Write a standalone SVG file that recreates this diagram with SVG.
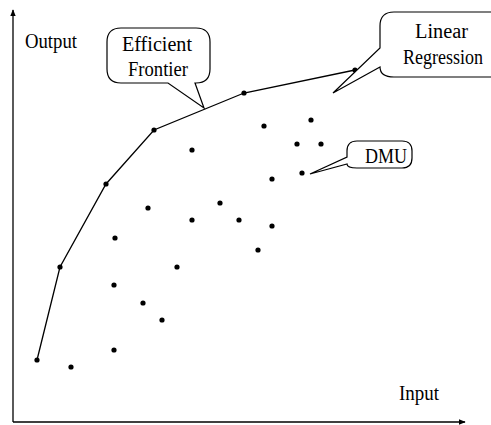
<svg xmlns="http://www.w3.org/2000/svg" width="491" height="425" viewBox="0 0 491 425">
<style>
.ax{stroke:#000;stroke-width:1.3;fill:none}
.ln{stroke:#000;stroke-width:1.3;fill:none}
.co{stroke:#000;stroke-width:1.2;fill:#fff}
.pt{fill:#000}
</style>
<defs>
<marker id="ar" viewBox="0 0 10 10" refX="9" refY="5" markerWidth="7" markerHeight="7" orient="auto" markerUnits="userSpaceOnUse">
<path d="M0,1 L10,5 L0,9 Z" fill="#000"/>
</marker>
</defs>
<rect width="491" height="425" fill="#fff"/>
<g id="connectors">
<line class="ax" x1="13" y1="422" x2="13" y2="10" marker-end="url(#ar)"/>
<line class="ax" x1="13" y1="422" x2="465" y2="422" marker-end="url(#ar)"/>
<polyline class="ln" points="37,360 60,267 106,184 154,130 244,93 355,70"/>
</g>
<g font-family="Liberation Serif" font-size="21" fill="#000">
<g id="axis-labels">
<text x="25" y="48" textLength="52" lengthAdjust="spacingAndGlyphs">Output</text>
<text x="399" y="400" textLength="40" lengthAdjust="spacingAndGlyphs">Input</text>
</g>
</g>
<g id="points">
<circle class="pt" cx="37" cy="360" r="2.6"/>
<circle class="pt" cx="60" cy="267" r="2.6"/>
<circle class="pt" cx="106" cy="184" r="2.6"/>
<circle class="pt" cx="154" cy="130" r="2.6"/>
<circle class="pt" cx="244" cy="93" r="2.6"/>
<circle class="pt" cx="355" cy="70" r="2.6"/>
<circle class="pt" cx="192" cy="150" r="2.6"/>
<circle class="pt" cx="148" cy="208" r="2.6"/>
<circle class="pt" cx="220" cy="203" r="2.6"/>
<circle class="pt" cx="192" cy="220" r="2.6"/>
<circle class="pt" cx="239" cy="220" r="2.6"/>
<circle class="pt" cx="115" cy="238" r="2.6"/>
<circle class="pt" cx="177" cy="267" r="2.6"/>
<circle class="pt" cx="114" cy="285" r="2.6"/>
<circle class="pt" cx="143" cy="303" r="2.6"/>
<circle class="pt" cx="162" cy="320" r="2.6"/>
<circle class="pt" cx="114" cy="350" r="2.6"/>
<circle class="pt" cx="71" cy="367" r="2.6"/>
<circle class="pt" cx="264" cy="126" r="2.6"/>
<circle class="pt" cx="311" cy="120" r="2.6"/>
<circle class="pt" cx="297" cy="144" r="2.6"/>
<circle class="pt" cx="321" cy="144" r="2.6"/>
<circle class="pt" cx="302" cy="173" r="2.6"/>
<circle class="pt" cx="272" cy="179" r="2.6"/>
<circle class="pt" cx="272" cy="226" r="2.6"/>
<circle class="pt" cx="258" cy="250" r="2.6"/>
</g>
<g id="efficient-frontier" font-family="Liberation Serif" font-size="21" fill="#000">
<path class="co" d="M121,28 H196 Q210,28 210,42 V69 Q210,83 196,83 H195 L204,108 L168,83 H121 Q107,83 107,69 V42 Q107,28 121,28 Z"/>
<text x="122" y="51" textLength="70" lengthAdjust="spacingAndGlyphs">Efficient</text>
<text x="128" y="76" textLength="60" lengthAdjust="spacingAndGlyphs">Frontier</text>
</g>
<g id="linear-regression" font-family="Liberation Serif" font-size="20" fill="#000">
<path class="co" d="M394,12 H500 V77 H394 Q380,77 380,67 L333,93 L380,48 V26 Q380,12 394,12 Z"/>
<text x="415" y="38" textLength="53" lengthAdjust="spacingAndGlyphs">Linear</text>
<text x="403" y="64" textLength="80" lengthAdjust="spacingAndGlyphs">Regression</text>
</g>
<g id="dmu" font-family="Liberation Serif" font-size="21" fill="#000">
<path class="co" d="M357,141 H402 Q412,141 412,151 V158 Q412,168 402,168 H357 Q347,168 347,164 L310,174 L347,157 V151 Q347,141 357,141 Z"/>
<text x="365" y="163" textLength="42" lengthAdjust="spacingAndGlyphs">DMU</text>
</g>
</svg>
